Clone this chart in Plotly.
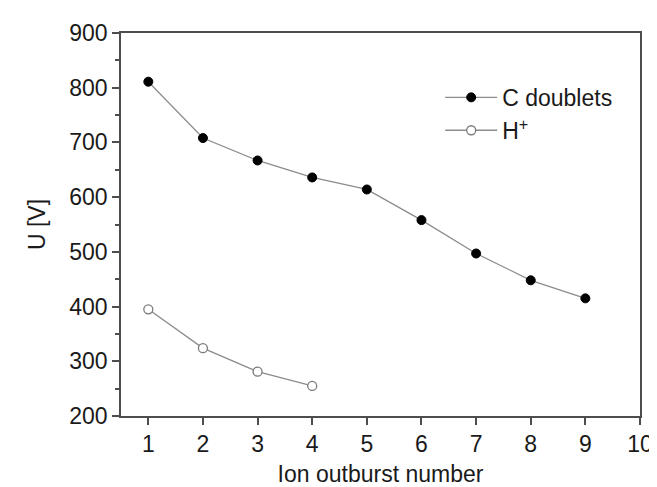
import plotly.graph_objects as go

x_c = [1, 2, 3, 4, 5, 6, 7, 8, 9]
c_doublets = [811, 708, 667, 636, 614, 558, 497, 448, 415]
x_h = [1, 2, 3, 4]
h_plus = [395, 324, 281, 255]
x_ticks = [1, 2, 3, 4, 5, 6, 7, 8, 9, 10]
y_ticks = [200, 300, 400, 500, 600, 700, 800, 900]

FONT = "Liberation Sans, Arial, sans-serif"
TXT = "#1a1a1a"
LINE = "#8c8c8c"
AXIS = "#4d4d4d"
FS = 23

fig = go.Figure()
fig.add_trace(go.Scatter(
    x=x_c, y=c_doublets, mode="lines+markers", name="C doublets",
    line=dict(color=LINE, width=1.3),
    marker=dict(symbol="circle", size=9, color="#000000",
                line=dict(color="#000000", width=1)),
))
fig.add_trace(go.Scatter(
    x=x_h, y=h_plus, mode="lines+markers", name="H<sup>+</sup>",
    line=dict(color=LINE, width=1.3),
    marker=dict(symbol="circle", size=9, color="#ffffff",
                line=dict(color="#7a7a7a", width=1.3)),
))

fig.update_layout(
    width=657, height=487,
    margin=dict(l=113, r=14, t=24, b=71),
    paper_bgcolor="white", plot_bgcolor="white",
    font=dict(family=FONT, size=FS, color=TXT),
    showlegend=True,
    legend=dict(x=0.615, y=0.888, xanchor="left", yanchor="top",
                bgcolor="rgba(0,0,0,0)", borderwidth=0,
                font=dict(family=FONT, size=FS, color=TXT),
                tracegroupgap=0, itemwidth=52),
)
fig.update_xaxes(
    range=[0.5, 10], tickvals=x_ticks, ticktext=[str(v) for v in x_ticks],
    ticks="outside", ticklen=7, tickwidth=1.5, tickcolor=AXIS,
    showline=True, linecolor=AXIS, linewidth=1.5, mirror=True,
    showgrid=False, zeroline=False,
    tickfont=dict(family=FONT, size=FS, color=TXT),
    title=dict(text="Ion outburst number", font=dict(family=FONT, size=FS, color=TXT), standoff=10),
)
fig.update_yaxes(
    range=[200, 900], tickvals=y_ticks, ticktext=[str(v) for v in y_ticks],
    ticks="outside", ticklen=7, tickwidth=1.5, tickcolor=AXIS,
    minor=dict(ticks="outside", ticklen=4, tickwidth=1.5, tickcolor=AXIS, dtick=50, showgrid=False),
    showline=True, linecolor=AXIS, linewidth=1.5, mirror=True,
    showgrid=False, zeroline=False,
    tickfont=dict(family=FONT, size=FS, color=TXT),
    title=dict(text="U [V]", font=dict(family=FONT, size=FS, color=TXT), standoff=17),
)

fig.write_html("out.html")
